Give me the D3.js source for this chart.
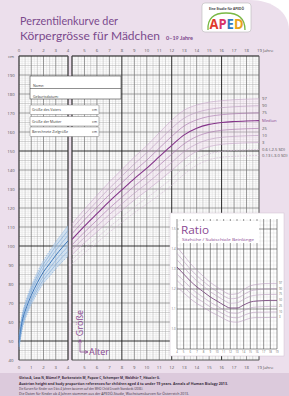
<!DOCTYPE html>
<html lang="de">
<head>
<meta charset="utf-8">
<script src="https://cdn.jsdelivr.net/npm/d3@7"></script>
<style>
  body { margin: 0; background: #fff; }
  svg { display: block; font-family: "Open Sans", "DejaVu Sans", sans-serif; }
</style>
</head>
<body>
<div id="chart"></div>
<script>
// ---- Daten: 0-4 Jahre (blau) ----
const ageBaby = [0, 0.25, 0.5, 0.75, 1, 1.5, 2, 2.5, 3, 3.5, 4];
const babyP97 = [52.7, 63.7, 70.0, 74.8, 78.9, 86.2, 92.4, 97.3, 102.2, 106.5, 110.8];
const babyP90 = [51.5, 62.5, 68.6, 73.3, 77.3, 84.4, 90.5, 95.2, 100.0, 104.1, 108.2];
const babyP75 = [50.4, 61.2, 67.3, 71.8, 75.8, 82.7, 88.6, 93.1, 97.7, 101.7, 105.6];
const babyP50 = [49.1, 59.8, 65.7, 70.1, 74.0, 80.7, 86.4, 90.7, 95.1, 99.0, 102.7];
const babyP25 = [47.8, 58.4, 64.1, 68.4, 72.2, 78.7, 84.2, 88.3, 92.5, 96.3, 99.8];
const babyP10 = [46.7, 57.1, 62.8, 66.9, 70.7, 77.0, 82.3, 86.2, 90.2, 93.9, 97.2];
const babyP3  = [45.5, 55.9, 61.4, 65.4, 69.1, 75.2, 80.4, 84.1, 88.0, 91.5, 94.6];

// ---- Daten: 4-19 Jahre (lila) ----
const ageGirl = [4, 5, 6, 7, 8, 9, 10, 11, 12, 13, 14, 15, 16, 17, 18, 19];
const girlP97 = [111.6, 119.3, 126.6, 133.7, 140.2, 146.8, 152.8, 159.6, 166.2, 171.5, 174.2, 175.7, 176.5, 177.0, 177.3, 177.5];
const girlP90 = [109.0, 116.5, 123.5, 130.4, 136.8, 143.2, 149.1, 155.6, 162.0, 167.3, 170.3, 171.9, 172.8, 173.3, 173.6, 173.8];
const girlP75 = [106.4, 113.7, 120.4, 127.1, 133.3, 139.5, 145.2, 151.5, 157.7, 163.2, 166.4, 168.2, 169.1, 169.6, 169.9, 170.1];
const girlP50 = [103.5, 110.5, 117.0, 123.5, 129.5, 135.5, 141.0, 147.0, 153.0, 158.5, 162.0, 164.0, 165.0, 165.5, 165.8, 166.0];
const girlP25 = [100.6, 107.3, 113.6, 119.9, 125.7, 131.5, 136.8, 142.5, 148.3, 153.8, 157.6, 159.8, 160.9, 161.4, 161.7, 161.9];
const girlP10 = [98.0, 104.5, 110.5, 116.6, 122.2, 127.8, 132.9, 138.4, 144.0, 149.7, 153.7, 156.1, 157.2, 157.7, 158.0, 158.2];
const girlP3  = [95.4, 101.7, 107.4, 113.3, 118.8, 124.2, 129.2, 134.4, 139.8, 145.5, 149.8, 152.3, 153.5, 154.0, 154.3, 154.5];
const girlSD25 = [92.8, 98.8, 104.3, 110.0, 115.3, 120.5, 125.3, 130.3, 135.5, 141.3, 145.8, 148.5, 149.8, 150.3, 150.6, 150.8];
const girlSD30 = [90.6, 96.4, 101.7, 107.3, 112.4, 117.5, 122.1, 126.9, 132.0, 137.8, 142.5, 145.4, 146.7, 147.2, 147.5, 147.7];
const girlLabels = ["97", "90", "75", "Median", "25", "10", "3", "0.6 (-2.5 SD)", "0.13 (-3.0 SD)"];

// ---- Daten: Ratio Sitzhöhe / Beinlänge ----
const ratioAge = [4, 5, 6, 7, 8, 9, 10, 11, 12, 13, 14, 15, 16, 17, 18, 19];
const ratioP97 = [1.410, 1.369, 1.328, 1.293, 1.262, 1.233, 1.210, 1.188, 1.173, 1.176, 1.197, 1.216, 1.223, 1.227, 1.228, 1.228];
const ratioP90 = [1.378, 1.339, 1.300, 1.266, 1.237, 1.210, 1.187, 1.166, 1.151, 1.154, 1.172, 1.190, 1.196, 1.200, 1.201, 1.201];
const ratioP75 = [1.346, 1.309, 1.272, 1.240, 1.213, 1.186, 1.165, 1.144, 1.129, 1.131, 1.148, 1.164, 1.170, 1.172, 1.173, 1.173];
const ratioP50 = [1.310, 1.275, 1.240, 1.210, 1.185, 1.160, 1.140, 1.120, 1.105, 1.105, 1.120, 1.135, 1.140, 1.142, 1.143, 1.143];
const ratioP25 = [1.274, 1.241, 1.208, 1.180, 1.157, 1.134, 1.115, 1.096, 1.081, 1.079, 1.092, 1.106, 1.110, 1.112, 1.113, 1.113];
const ratioP10 = [1.242, 1.211, 1.180, 1.154, 1.133, 1.110, 1.093, 1.074, 1.059, 1.056, 1.068, 1.080, 1.084, 1.084, 1.085, 1.085];
const ratioP3  = [1.210, 1.181, 1.152, 1.127, 1.108, 1.087, 1.070, 1.052, 1.037, 1.034, 1.043, 1.054, 1.057, 1.057, 1.058, 1.058];
const ratioLabels = ["97", "90", "75", "50", "25", "10", "3"];

// Achsenbeschriftungen
const yearTicks = d3.range(0, 20);
const cmTicks = d3.range(40, 200, 10);
const ratioTicks = [1.0, 1.1, 1.2, 1.3, 1.4, 1.5];

const purple = "#8a4a92";

const W = 289, H = 396;
const svg = d3.select("#chart").append("svg")
  .attr("width", W).attr("height", H);

// Hintergrund
svg.append("rect").attr("width", W).attr("height", H).attr("fill", "#fff");
svg.append("path").attr("d", "M0,0 H250 C272,0 289,12 289,30 V396 H0 Z").attr("fill", "#ecdfec");
svg.append("rect").attr("x", 0).attr("y", 373).attr("width", W).attr("height", 23).attr("fill", "#dccadc");

// Titel
const title = svg.append("g").attr("font-family", "Lato, 'Open Sans', sans-serif").attr("fill", "#7b4a8c");
title.append("text").attr("x", 20).attr("y", 24.5).attr("font-size", 10.5)
  .attr("textLength", 98).attr("lengthAdjust", "spacingAndGlyphs")
  .text("Perzentilenkurve der");
title.append("text").attr("x", 20).attr("y", 39.5).attr("font-size", 11.5)
  .attr("textLength", 140).attr("lengthAdjust", "spacingAndGlyphs")
  .text("Körpergrösse für Mädchen");
title.append("text").attr("x", 166).attr("y", 39.5).attr("font-size", 5.5).attr("font-weight", "bold")
  .attr("textLength", 27).attr("lengthAdjust", "spacingAndGlyphs")
  .text("0–19 Jahre");

// Logo
const logo = svg.append("g");
logo.append("rect").attr("x", 202).attr("y", 3).attr("width", 49).attr("height", 29).attr("rx", 3)
  .attr("fill", "#fff").attr("stroke", "#b9b9b9").attr("stroke-width", 0.6);
logo.append("text").attr("x", 226.5).attr("y", 9.5).attr("text-anchor", "middle")
  .attr("font-size", 3.2).attr("font-weight", "bold").attr("fill", "#444").text("Eine Studie für APEDÖ");
logo.append("path").attr("d", "M208,30 Q207,13 226,13 Q245,13 245,30")
  .attr("fill", "none").attr("stroke", "#78b843").attr("stroke-width", 1.3);
const apedText = logo.append("text").attr("x", 226.5).attr("y", 28.5).attr("text-anchor", "middle")
  .attr("font-size", 14).attr("font-weight", "bold")
  .attr("textLength", 34).attr("lengthAdjust", "spacingAndGlyphs");
[["A", "#e0392c"], ["P", "#d8346a"], ["E", "#2f7bbf"], ["D", "#e8a21c"]].forEach(([t, c]) => {
  apedText.append("tspan").attr("fill", c).text(t);
});

// Skalen
const y = d3.scaleLinear().domain([40, 200]).range([360, 56]);
const xL = d3.scaleLinear().domain([0, 4]).range([19, 68]);
const xR = d3.scaleLinear().domain([4, 19]).range([72, 259]);
const xAge = a => a <= 4 ? xL(a) : xR(a);

// Raster
function drawGrid(x, a0, a1) {
  const g = svg.append("g");
  g.append("rect").attr("x", x(a0)).attr("y", y(200))
    .attr("width", x(a1) - x(a0)).attr("height", y(40) - y(200)).attr("fill", "#fff");
  const styles = [["#d9d9d9", 0.4], ["#acacac", 0.5], ["#767676", 0.75], ["#1e1e1e", 0.95]];
  const lines = [];
  d3.range(40, 201).forEach(v => {
    const r = v % 50 === 0 ? 3 : v % 10 === 0 ? 2 : v % 5 === 0 ? 1 : 0;
    lines.push({ r, x1: x(a0), x2: x(a1), y1: y(v), y2: y(v) });
  });
  d3.range(a0 * 4, a1 * 4 + 1).map(q => q / 4).forEach(a => {
    const r = a % 4 === 0 ? 3 : a % 1 === 0 ? 2 : a % 0.5 === 0 ? 1 : 0;
    lines.push({ r, x1: x(a), x2: x(a), y1: y(40), y2: y(200) });
  });
  lines.sort((p, q) => p.r - q.r);
  g.selectAll("line").data(lines).join("line")
    .attr("x1", d => d.x1).attr("x2", d => d.x2)
    .attr("y1", d => d.y1).attr("y2", d => d.y2)
    .attr("stroke", d => styles[d.r][0]).attr("stroke-width", d => styles[d.r][1]);
  g.append("rect").attr("x", x(a0)).attr("y", y(200))
    .attr("width", x(a1) - x(a0)).attr("height", y(40) - y(200))
    .attr("fill", "none").attr("stroke", "#555").attr("stroke-width", 0.6);
}
drawGrid(xL, 0, 4);
drawGrid(xR, 4, 19);

// Achsen-Beschriftung
const axisText = svg.append("g").attr("font-size", 4.3).attr("fill", "#555").attr("text-anchor", "middle");
[51.5, 368.5].forEach(ty => {
  axisText.selectAll(null).data(yearTicks).join("text")
    .attr("x", d => xAge(d)).attr("y", ty)
    .text(d => d === 19 ? "" : d);
  axisText.append("text").attr("x", xR(19) - 2).attr("y", ty).attr("text-anchor", "start").text("19 Jahre");
});
axisText.selectAll(null).data(cmTicks).join("text")
  .attr("x", 11).attr("y", d => y(d) + 1.5).text(d => d);
axisText.append("text").attr("x", 11).attr("y", y(200) + 1.5).text("cm");

// Kurven 0-4 Jahre
const bandL = d3.area().curve(d3.curveMonotoneX)
  .x(d => xL(d)).y0((d, i) => y(babyP3[i])).y1((d, i) => y(babyP97[i]));
svg.append("path").datum(ageBaby).attr("d", bandL).attr("fill", "#bcd5ef").attr("opacity", 0.6);
const lineL = d3.line().curve(d3.curveMonotoneX).x((d, i) => xL(ageBaby[i])).y(d => y(d));
const babySeries = [babyP97, babyP90, babyP75, babyP50, babyP25, babyP10, babyP3];
babySeries.forEach((s, i) => {
  svg.append("path").datum(s).attr("d", lineL).attr("fill", "none")
    .attr("stroke", i === 3 ? "#2d6bb3" : "#6f9fd4")
    .attr("stroke-width", i === 3 ? 0.9 : 0.55)
    .attr("stroke-dasharray", i === 0 || i === 6 ? "1.5,1" : null);
});

// Kurven 4-19 Jahre
const bandR = d3.area().curve(d3.curveMonotoneX)
  .x(d => xR(d)).y0((d, i) => y(girlP3[i])).y1((d, i) => y(girlP97[i]));
svg.append("path").datum(ageGirl).attr("d", bandR).attr("fill", "#efd3ec").attr("opacity", 0.3);
const lineR = d3.line().curve(d3.curveMonotoneX).x((d, i) => xR(ageGirl[i])).y(d => y(d));
const girlSeries = [girlP97, girlP90, girlP75, girlP50, girlP25, girlP10, girlP3, girlSD25, girlSD30];
const girlColor = ["#c6a4c9", "#bb98bf", "#a46fa9", "#84338a", "#a46fa9", "#bb98bf", "#c6a4c9", "#d0b6d2", "#d0b6d2"];
girlSeries.forEach((s, i) => {
  svg.append("path").datum(s).attr("d", lineR).attr("fill", "none")
    .attr("stroke", girlColor[i])
    .attr("stroke-width", i === 3 ? 1.1 : 0.6)
    .attr("stroke-dasharray", i >= 7 ? "2,1" : null);
});
svg.append("g").attr("font-size", 4.2).selectAll("text").data(girlSeries).join("text")
  .attr("x", 262).attr("y", d => y(d[d.length - 1]) + 1.5)
  .attr("fill", (d, i) => i === 3 ? purple : "#555")
  .text((d, i) => girlLabels[i]);

// Eingabefelder
const boxes = svg.append("g").attr("font-size", 3.6).attr("fill", "#333");
boxes.append("rect").attr("x", 30).attr("y", 76).attr("width", 91).attr("height", 23)
  .attr("fill", "#fff").attr("stroke", "#444").attr("stroke-width", 0.6);
boxes.append("line").attr("x1", 30).attr("x2", 121).attr("y1", 88.5).attr("y2", 88.5)
  .attr("stroke", "#444").attr("stroke-width", 0.6);
boxes.append("text").attr("x", 33).attr("y", 87).text("Name:");
boxes.append("text").attr("x", 33).attr("y", 97.5).text("Geburtsdatum:");
[["Größe des Vaters", 105], ["Größe der Mutter", 116.5], ["Berechnete Zielgröße", 127]].forEach(([t, by]) => {
  boxes.append("rect").attr("x", 30).attr("y", by).attr("width", 69).attr("height", 9.5).attr("rx", 0.8)
    .attr("fill", "#fff").attr("stroke", "#777").attr("stroke-width", 0.5);
  boxes.append("text").attr("x", 32).attr("y", by + 6.2).text(t);
  boxes.append("text").attr("x", 97).attr("y", by + 6.2).attr("text-anchor", "end").text("cm");
});

// Größe / Alter
const ga = svg.append("g").attr("fill", purple);
ga.append("path").attr("d", "M80,352 V340 M78.6,342.5 L80,339.5 L81.4,342.5 M80,352 H87.5 M85,350.6 L88,352 L85,353.4")
  .attr("fill", "none").attr("stroke", purple).attr("stroke-width", 0.8);
ga.append("text").attr("transform", "translate(82.5,323) rotate(-90)").attr("text-anchor", "middle")
  .attr("font-size", 9).text("Größe");
ga.append("text").attr("x", 89).attr("y", 354.5).attr("font-size", 9).text("Alter");

// Ratio-Einschub
const xI = d3.scaleLinear().domain([4, 19]).range([177, 277]);
const yI = d3.scaleLinear().domain([0.9, 1.55]).range([349, 219]);
const inset = svg.append("g");
inset.append("rect").attr("x", 170).attr("y", 213).attr("width", 114).attr("height", 143)
  .attr("fill", "#fff").attr("stroke", "#d0c0d0").attr("stroke-width", 0.5);
const iLines = [];
d3.range(90, 156, 2).map(v => v / 100).forEach(v => {
  const k = Math.round(v * 100);
  const r = k % 10 === 0 ? 2 : k % 5 === 0 ? 1 : 0;
  iLines.push({ r, x1: xI(4), x2: xI(19), y1: yI(v), y2: yI(v) });
});
d3.range(8, 39).map(q => q / 2).forEach(a => {
  const r = a % 1 === 0 ? 2 : 0;
  iLines.push({ r, x1: xI(a), x2: xI(a), y1: yI(0.9), y2: yI(1.55) });
});
iLines.sort((p, q) => p.r - q.r);
const iStyles = [["#dcdcdc", 0.4], ["#b5b5b5", 0.5], ["#4a4a4a", 0.6]];
inset.selectAll("line").data(iLines).join("line")
  .attr("x1", d => d.x1).attr("x2", d => d.x2).attr("y1", d => d.y1).attr("y2", d => d.y2)
  .attr("stroke", d => iStyles[d.r][0]).attr("stroke-width", d => iStyles[d.r][1]);
inset.append("rect").attr("x", 179).attr("y", 221).attr("width", 80).attr("height", 22).attr("fill", "#fff");
inset.append("text").attr("x", 181).attr("y", 233.5).attr("font-size", 11).attr("fill", purple)
  .attr("textLength", 28).attr("lengthAdjust", "spacingAndGlyphs").text("Ratio");
inset.append("text").attr("x", 182).attr("y", 241).attr("font-size", 3.8).attr("fill", purple)
  .attr("textLength", 72).attr("lengthAdjust", "spacingAndGlyphs").text("Sitzhöhe / Subischiale Beinlänge");
const lineI = d3.line().curve(d3.curveMonotoneX).x((d, i) => xI(ratioAge[i])).y(d => yI(d));
const ratioSeries = [ratioP97, ratioP90, ratioP75, ratioP50, ratioP25, ratioP10, ratioP3];
ratioSeries.forEach((s, i) => {
  inset.append("path").datum(s).attr("d", lineI).attr("fill", "none")
    .attr("stroke", i === 3 ? "#7a4a80" : "#b99bbd")
    .attr("stroke-width", i === 3 ? 0.9 : 0.6);
});
const iText = inset.append("g").attr("font-size", 2.8).attr("fill", "#666");
iText.selectAll(null).data(ratioSeries).join("text")
  .attr("x", 279).attr("y", d => yI(d[d.length - 1]) + 1)
  .text((d, i) => ratioLabels[i]);
iText.selectAll(null).data(ratioTicks).join("text")
  .attr("x", 175.5).attr("y", d => yI(d) + 1).attr("text-anchor", "end")
  .text(d => d.toFixed(1));
iText.selectAll(null).data(ratioAge).join("text")
  .attr("x", d => xI(d)).attr("y", 353).attr("text-anchor", "middle")
  .text(d => d);

// Quellenangabe
const foot = svg.append("g").attr("fill", "#3c2f3f");
[
  ["Gleiss A, Lass N, Blümel P, Borkenstein M, Popow C, Schemper M, Waldhör T, Häusler G.", 378.5, 141, "bold"],
  ["Austrian height and body proportion references for children aged 4 to under 19 years. Annals of Human Biology 2013.", 384.5, 209, "bold"],
  ["Die Kurven für Kinder von 0 bis 4 Jahren basieren auf den WHO Child Growth Standards (2006).", 390, 124, "normal"],
  ["Die Daten für Kinder ab 4 Jahren stammen aus der APEDÖ-Studie, Wachstumskurven für Österreich 2013.", 395, 170, "normal"]
].forEach(([t, ty, len, fw]) => {
  foot.append("text").attr("x", 19).attr("y", ty).attr("font-size", 3.6).attr("font-weight", fw)
    .attr("textLength", len).attr("lengthAdjust", "spacingAndGlyphs").text(t);
});
</script>
</body>
</html>
